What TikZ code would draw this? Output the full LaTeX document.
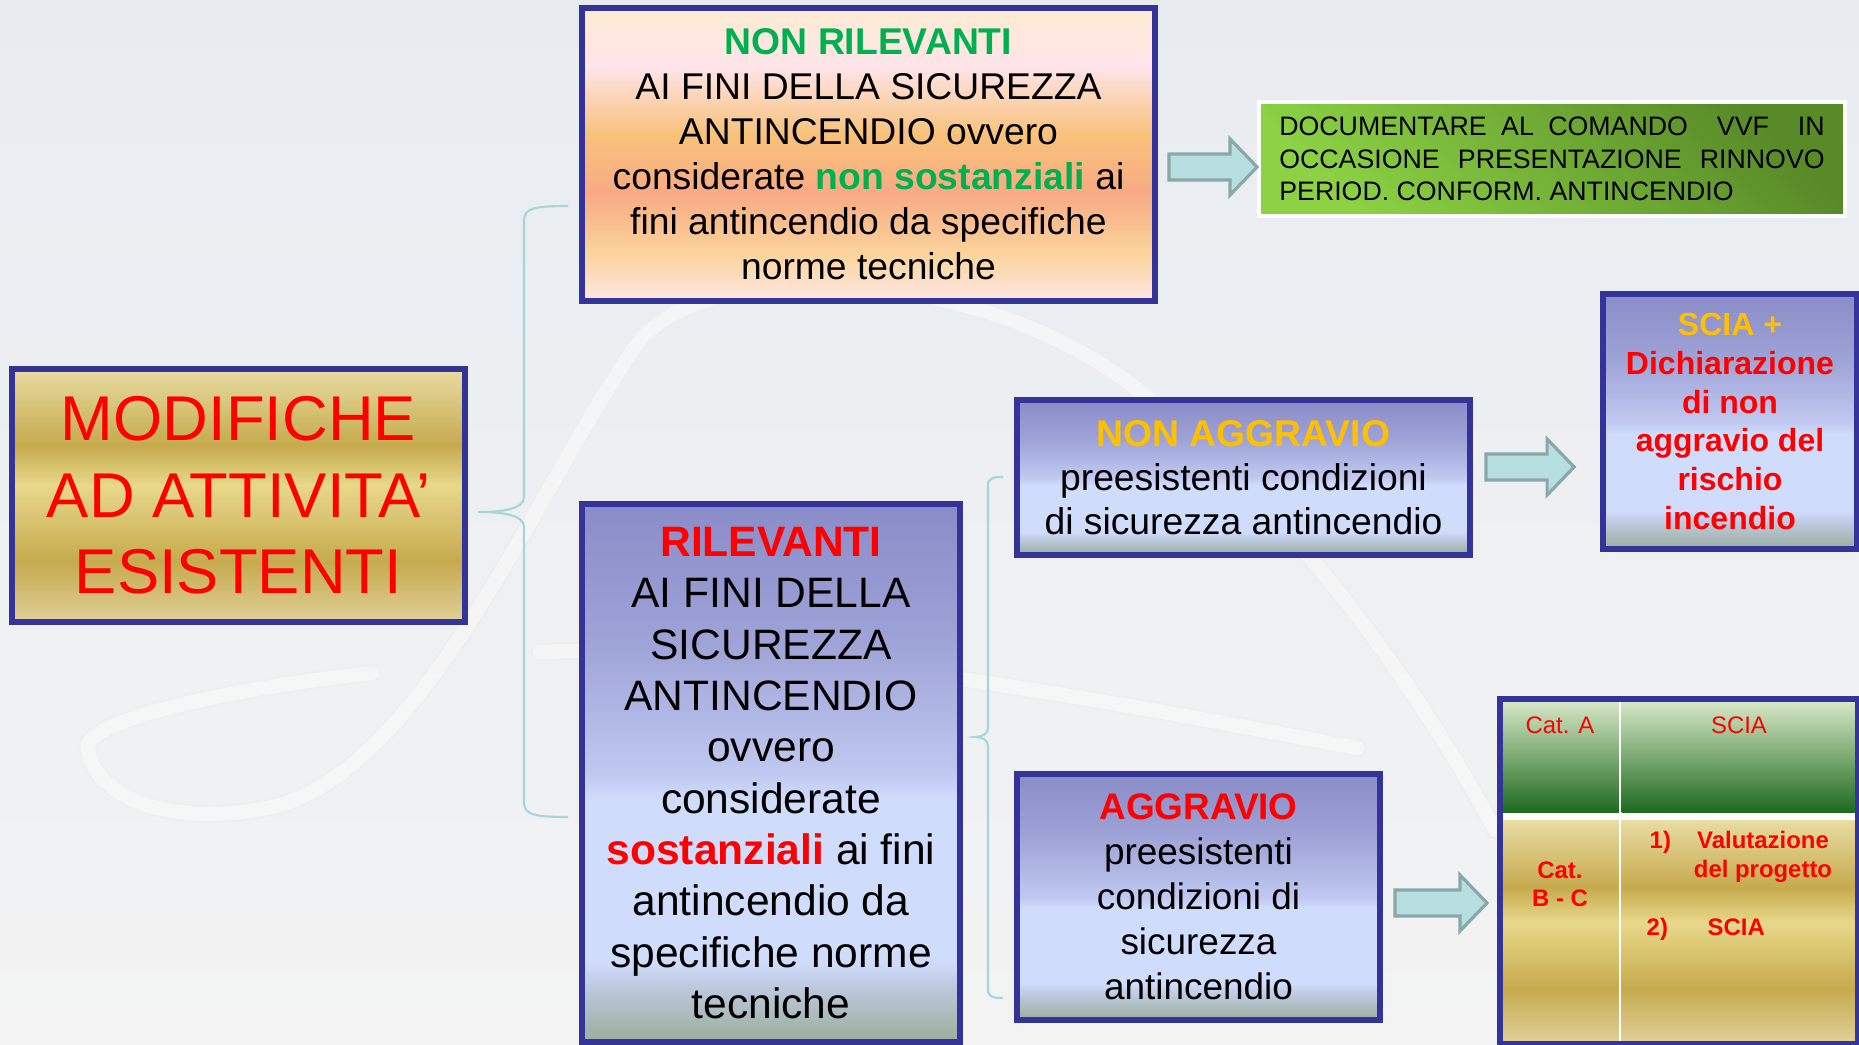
\documentclass[tikz,border=0pt]{standalone}
\usepackage{fontspec}
\setmainfont{Liberation Sans}
\usetikzlibrary{positioning}
\usetikzlibrary{calc}
\usetikzlibrary{shapes}

\definecolor{boxblue}{RGB}{51,51,153}
\definecolor{nrgreen}{RGB}{0,176,80}
\definecolor{sciagold}{RGB}{255,192,0}
\definecolor{goldT}{RGB}{232,220,162}
\definecolor{goldL}{RGB}{232,216,138}
\definecolor{goldD}{RGB}{198,170,78}
\definecolor{goldB}{RGB}{224,208,154}
\definecolor{blueT}{RGB}{138,140,200}
\definecolor{blueM}{RGB}{158,162,214}
\definecolor{blueS}{RGB}{192,200,240}
\definecolor{blueL}{RGB}{208,220,252}
\definecolor{blueG}{RGB}{188,200,220}
\definecolor{blueB}{RGB}{154,174,154}
\definecolor{orT}{RGB}{253,235,210}
\definecolor{orP}{RGB}{255,228,234}
\definecolor{orO}{RGB}{248,194,122}
\definecolor{orS}{RGB}{248,170,132}
\definecolor{orL}{RGB}{251,212,156}
\definecolor{orB}{RGB}{255,230,230}
\definecolor{docL}{RGB}{140,210,68}
\definecolor{docD}{RGB}{88,138,40}
\definecolor{hdrT}{RGB}{216,232,200}
\definecolor{hdrM}{RGB}{138,184,112}
\definecolor{hdrB}{RGB}{28,106,28}
\definecolor{arrfill}{RGB}{184,223,224}
\definecolor{arrline}{RGB}{139,168,168}
\definecolor{bracecol}{RGB}{166,214,218}
\definecolor{bgT}{RGB}{232,236,241}
\definecolor{bgB}{RGB}{243,243,243}

\pgfdeclareverticalshading{goldband}{100bp}{color(0bp)=(goldB); color(25bp)=(goldB); color(37bp)=(goldD); color(52bp)=(goldL); color(60bp)=(goldD); color(75bp)=(goldT); color(100bp)=(goldT)}
\pgfdeclareverticalshading{blueband}{100bp}{color(0bp)=(blueB); color(25bp)=(blueB); color(30bp)=(blueG); color(32.5bp)=(blueL); color(47.5bp)=(blueL); color(50bp)=(blueS); color(62.5bp)=(blueM); color(75bp)=(blueT); color(100bp)=(blueT)}
\pgfdeclareverticalshading{orangeband}{100bp}{color(0bp)=(orB); color(25bp)=(orB); color(33bp)=(orL); color(43.5bp)=(orS); color(53.5bp)=(orO); color(65bp)=(orP); color(75bp)=(orT); color(100bp)=(orT)}

\tikzset{
    box/.style = {rectangle, draw=boxblue, line width=1.6pt, align=center, inner sep=0pt},
    goldbox/.style = {box, shading=goldband},
    bluebox/.style = {box, shading=blueband},
    orangebox/.style = {box, shading=orangeband},
    docbox/.style = {rectangle, draw=white, line width=1pt, top color=docD, bottom color=docL, shading angle=-45, inner sep=0pt},
    tcell/.style = {rectangle, inner sep=0pt, anchor=north west},
    ttext/.style = {text=red, inner sep=0pt, font=\tabfont},
    fatarr/.style = {draw=arrline, fill=arrfill, line width=0.9pt},
    bracel/.style = {draw=bracecol, line width=0.6pt},
    swoosh/.style = {draw=gray!14, double=white, double distance=4pt, line width=0.6pt, line cap=round, opacity=0.45},
}
\newcommand{\tabfont}{\fontsize{6.8}{8}\selectfont}
\newcommand{\G}[1]{\textcolor{nrgreen}{\textbf{#1}}}
\newcommand{\R}[1]{\textcolor{red}{\textbf{#1}}}
\newcommand{\Y}[1]{\textcolor{sciagold}{\textbf{#1}}}
% block arrow from a start point to the x of an end point
\newcommand{\fatarrow}[2]{%
  \path[fatarr] let \p1 = (#1), \p2 = (#2) in
    (\x1,\y1+0.13cm) -- (\x2-0.27cm,\y1+0.13cm) -- (\x2-0.27cm,\y1+0.28cm) -- (\x2,\y1)
    -- (\x2-0.27cm,\y1-0.28cm) -- (\x2-0.27cm,\y1-0.13cm) -- (\x1,\y1-0.13cm) -- cycle;}

\begin{document}
\begin{tikzpicture}[x=0.01cm, y=-0.01cm]
\useasboundingbox (0,0) rectangle (1859,1045);
\shade[top color=bgT, bottom color=bgB] (0,0) rectangle (1859,1045);
% background swoosh
\draw[swoosh] (372,673) .. controls (220,690) and (95,720) .. (88,745) .. controls (90,800) and (180,830) .. (280,805) .. controls (430,760) and (540,480) .. (640,340) .. controls (720,250) and (1000,270) .. (1150,400) .. controls (1300,520) and (1420,690) .. (1495,830);
\draw[swoosh] (540,652) .. controls (800,640) and (1100,700) .. (1357,748);
%
\node[goldbox, minimum width=4.53cm, minimum height=2.53cm, text=red, font=\fontsize{18}{21.8}\selectfont] at (238.5,495.5) (mod) {MODIFICHE\\AD ATTIVITA’\\ESISTENTI};
\node[orangebox, minimum width=5.73cm, minimum height=2.93cm, font=\fontsize{10.6}{12.8}\selectfont] at (868.5,154.5) (nr) {\G{NON RILEVANTI}\\AI FINI DELLA SICUREZZA\\ANTINCENDIO ovvero\\considerate \G{non sostanziali} ai\\fini antincendio da specifiche\\norme tecniche};
\node[docbox, minimum width=5.86cm, minimum height=1.14cm, text width=5.45cm, align=justify, font=\fontsize{7.6}{9.2}\selectfont] at (1552,159) (doc) {DOCUMENTARE AL COMANDO\ \ VVF\ \ IN\linebreak OCCASIONE PRESENTAZIONE RINNOVO\linebreak PERIOD. CONFORM. ANTINCENDIO};
\node[bluebox, minimum width=3.78cm, minimum height=5.38cm, font=\fontsize{12.1}{14.6}\selectfont] at (771,773) (ril) {\R{RILEVANTI}\\AI FINI DELLA\\SICUREZZA\\ANTINCENDIO\\ovvero\\considerate\\\R{sostanziali} ai fini\\antincendio da\\specifiche norme\\tecniche};
\node[bluebox, minimum width=4.53cm, minimum height=1.55cm, font=\fontsize{10.6}{12.5}\selectfont] at (1243.5,477.5) (nag) {\Y{NON AGGRAVIO}\\preesistenti condizioni\\di sicurezza antincendio};
\node[bluebox, minimum width=3.63cm, minimum height=2.46cm, font=\fontsize{10.5}{12.8}\selectfont] at (1198.5,897) (agg) {\R{AGGRAVIO}\\preesistenti\\condizioni di\\sicurezza\\antincendio};
\node[bluebox, minimum width=2.54cm, minimum height=2.55cm, text=red, font=\fontsize{9.1}{11}\selectfont\bfseries] at (1730,421.5) (scia) {\textcolor{sciagold}{SCIA +}\\Dichiarazione\\di non\\aggravio del\\rischio\\incendio};
%
% table
\node[tcell, fill=white, minimum width=3.56cm, minimum height=3.43cm] at (1500,699) (tab) {};
\node[tcell, top color=hdrT, middle color=hdrM, bottom color=hdrB, minimum width=1.16cm, minimum height=1.12cm] at (1502,700) (hA) {};
\node[tcell, top color=hdrT, middle color=hdrM, bottom color=hdrB, minimum width=2.34cm, minimum height=1.12cm] at (1621,700) (hS) {};
\node[tcell, shading=goldband, minimum width=1.16cm, minimum height=2.21cm] at (1502,820) (bA) {};
\node[tcell, shading=goldband, minimum width=2.34cm, minimum height=2.21cm] at (1621,820) (bS) {};
\draw[boxblue, line width=1.6pt] (tab.north west) rectangle (tab.south east);
\node[ttext, anchor=base] at (1560,733) (catA) {Cat. A};
\node[ttext, anchor=base] at (1739,733) (hscia) {SCIA};
\node[ttext, anchor=base, font=\tabfont\bfseries] at (1560,878) (cat) {Cat.};
\node[ttext, anchor=base, font=\tabfont\bfseries] at (1560,906) (bc) {B - C};
\node[ttext, anchor=base west, font=\tabfont\bfseries] at (1649,848) (n1) {1)};
\node[ttext, anchor=base, font=\tabfont\bfseries] at (1763,848) (val) {Valutazione};
\node[ttext, anchor=base, font=\tabfont\bfseries] at (1763,877) (prog) {del progetto};
\node[ttext, anchor=base west, font=\tabfont\bfseries] at (1646,935) (n2) {2)};
\node[ttext, anchor=base west, font=\tabfont\bfseries] at (1707,935) (scia2) {SCIA};
%
% braces
\coordinate (b1top) at (568,206);
\coordinate (b1tip) at (478,512);
\coordinate (b1bot) at (568,817);
\coordinate (b2top) at (1003,477);
\coordinate (b2tip) at (975,737);
\coordinate (b2bot) at (1003,998);
\draw[bracel] (b1top) .. controls +(-32,0) and +(0,-12) .. (524,220) -- (524,497) .. controls +(0,12) and +(25,0) .. (b1tip) .. controls +(25,0) and +(0,-12) .. (524,527) -- (524,803) .. controls +(0,12) and +(-32,0) .. (b1bot);
\draw[bracel] (b2top) .. controls +(-10,0) and +(0,-8) .. (988,486) -- (988,728) .. controls +(0,6) and +(7,0) .. (b2tip) .. controls +(7,0) and +(0,-6) .. (988,746) -- (988,989) .. controls +(0,8) and +(-10,0) .. (b2bot);
%
% arrows
\fatarrow{$(nr.east)+(11,12.5)$}{doc.west}
\fatarrow{$(nag.east)+(13,-10.5)$}{$(scia.west)+(-26,0)$}
\fatarrow{$(agg.east)+(12,6)$}{$(tab.west)+(-13,0)$}
\end{tikzpicture}
\end{document}
